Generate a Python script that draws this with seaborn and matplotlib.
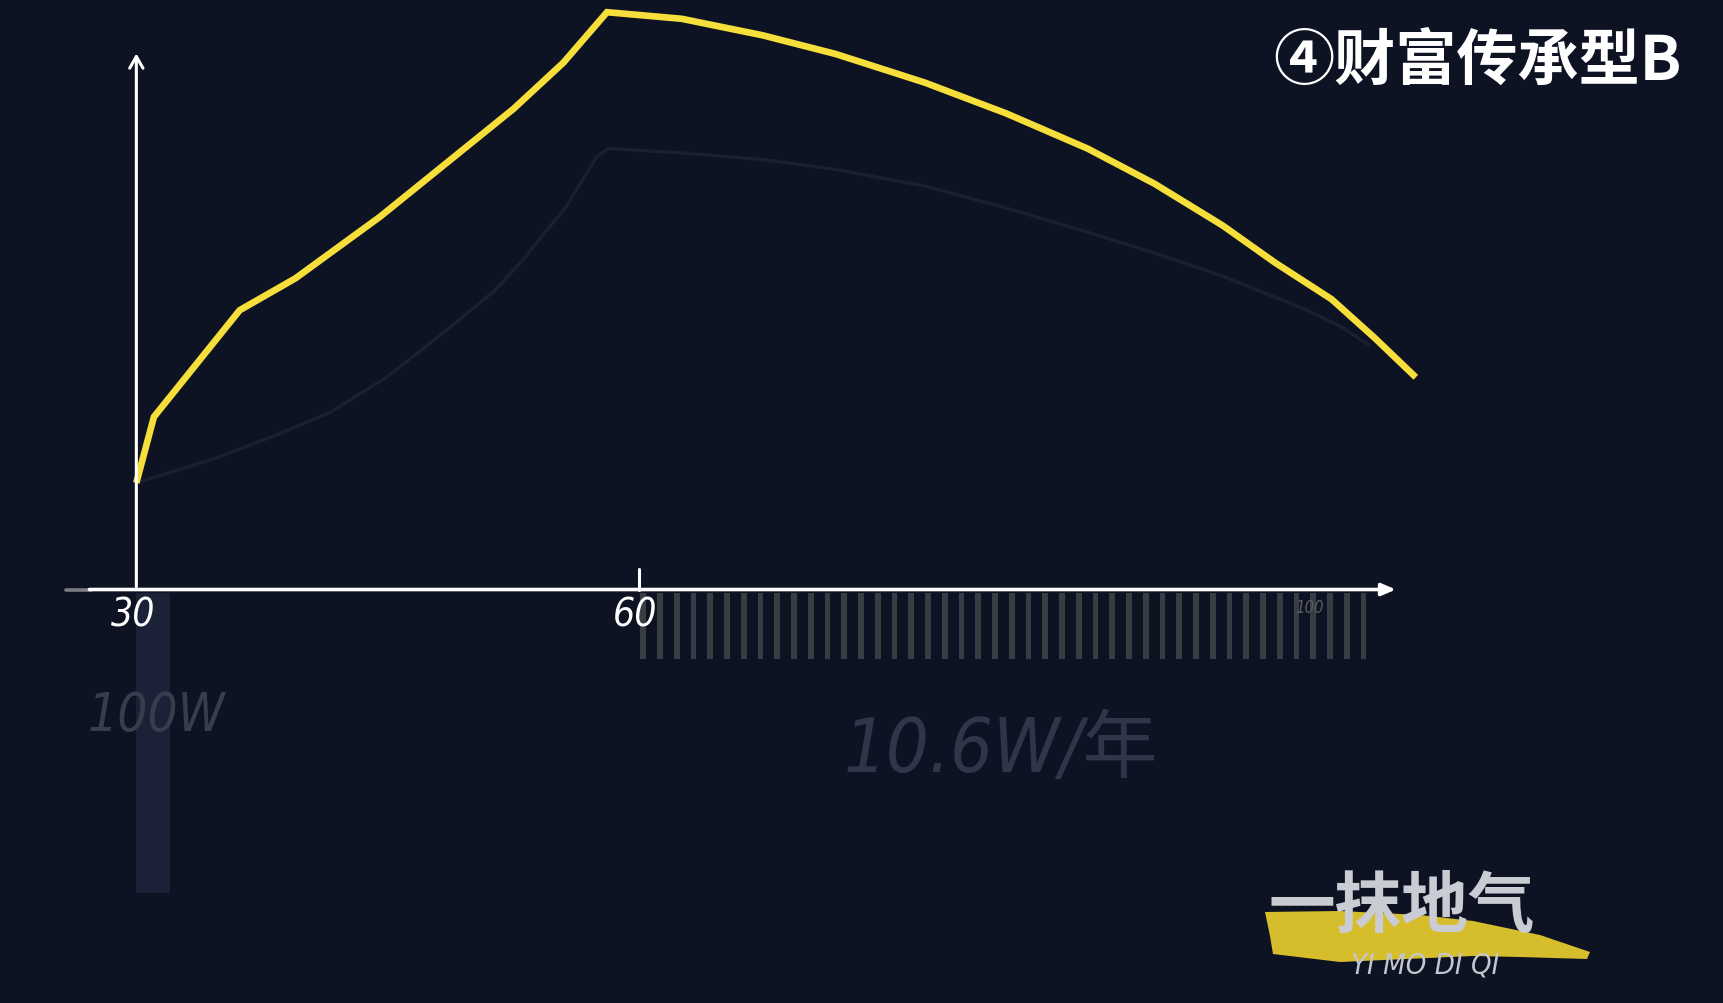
import matplotlib
matplotlib.use("Agg")
import matplotlib.pyplot as plt
from matplotlib.patches import Polygon
import seaborn as sns
import numpy as np

# ─────────────────────────────────────────────
# data (wealth index over age)
# ─────────────────────────────────────────────
wealth_ages = [30, 31.05, 36.17, 39.5, 44.55, 48.53, 52.51, 55.49, 58.1,
               62.56, 67.39, 71.75, 77.07, 81.93, 86.79, 90.79, 94.86,
               98.01, 101.36, 103.92, 106.39]
wealth_vals = [97, 157, 254, 283, 339, 388, 437, 479, 525,
               519, 504, 487, 461, 433, 401, 369, 331,
               297, 264, 229, 193]

ghost_ages = [30, 34.66, 38.27, 41.55, 44.84, 48.38, 51.4, 53.1, 55.7,
              57.5, 58.2, 62.56, 67.39, 71.75, 77.07, 81.93, 86.79,
              90.79, 94.86, 99.75, 101.95, 103.63]
ghost_vals = [97, 119, 140, 161, 192, 234, 272, 300, 349,
              394, 401, 397, 391, 382, 367, 347, 325,
              306, 285, 255, 239, 222]

stripe_years = list(range(60, 104))
stripe_depth = 60
bar_start_age = 30
bar_depth = 273

tick_labels = ["30", "60"]
tick_ages = [30, 60]

title = "④财富传承型B"
lump_label = "100W"
annual_label = "10.6W/年"

BG = "#0e1324"
YELLOW = "#f6df3a"
NARROW = ["DejaVu Sans Condensed", "DejaVu Sans", "Noto Sans CJK SC"]

sns.set_theme(style="dark", rc={"axes.facecolor": BG, "figure.facecolor": BG})
plt.rcParams["font.family"] = ["Noto Sans CJK SC", "DejaVu Sans"]

fig = plt.figure(figsize=(17.24, 10.04), dpi=100)
ax = fig.add_axes([0, 0, 1, 1])
ax.set_facecolor(BG)
ax.set_xlim(21.86, 124.79)
ax.set_ylim(-376, 537)
ax.set_axis_off()

# faint earlier curve, then the yellow one
sns.lineplot(x=ghost_ages, y=ghost_vals, ax=ax, color="#1b1f2e",
             linewidth=2.4, sort=False, zorder=2)
sns.lineplot(x=wealth_ages, y=wealth_vals, ax=ax, color=YELLOW,
             linewidth=4.8, sort=False, zorder=4,
             solid_joinstyle="miter", solid_capstyle="butt")

# under-axis bars
ax.bar(bar_start_age, -bar_depth, bottom=-3, width=2.03, align="edge",
       color="#1b2137", edgecolor="none", linewidth=0, zorder=1)
ax.bar(np.array(stripe_years) + 0.1, -stripe_depth, bottom=-3, width=0.34,
       align="edge", color="#393c43", edgecolor="none", linewidth=0, zorder=1)

# axes arrows
ax.annotate("", xy=(30, 490), xytext=(30, 0),
            arrowprops=dict(arrowstyle="->,head_length=0.7,head_width=0.4",
                            color="white", lw=2.2), zorder=5)
ax.annotate("", xy=(105.2, 0), xytext=(27.2, 0),
            arrowprops=dict(arrowstyle="-|>,head_length=0.7,head_width=0.3",
                            color="white", lw=2.6, shrinkA=0, shrinkB=0),
            zorder=5)
ax.plot([25.8, 27.3], [0, 0], color="white", lw=2.6, alpha=0.45, zorder=5)
ax.plot([60, 60], [0, 19], color="white", lw=2.2, zorder=5)

for age, lab in zip(tick_ages, tick_labels):
    ax.text(age - 0.2, -23, lab, ha="center", va="center", color="white",
            fontsize=28, style="italic", fontstretch="condensed",
            family=NARROW, zorder=6)
ax.text(100.05, -16, "100", ha="center", va="center", color="#575b64",
        fontsize=12, style="italic", fontstretch="condensed", family=NARROW,
        zorder=6)

ax.text(31.2, -114, lump_label, ha="center", va="center", color="#383c4b",
        fontsize=38, style="italic", fontstretch="condensed", family=NARROW,
        zorder=6)
ax.text(81.6, -146, annual_label, ha="center", va="center", color="#31354a",
        fontsize=54, style="italic", fontstretch="condensed", family=NARROW,
        zorder=6)

# title
fig.text(0.9756, 0.9386, title, ha="right", va="center", color="white",
         fontsize=44, fontweight="bold", family=["Noto Sans CJK SC", "DejaVu Sans"])

# logo
W, H = 1724, 1004
brush = [(1265, 913), (1340, 912), (1420, 916), (1473, 922), (1540, 936),
         (1590, 953), (1587, 960), (1520, 958), (1473, 957), (1340, 963),
         (1273, 955), (1270, 937)]
fig.patches.append(Polygon([(x / W, 1 - y / H) for x, y in brush], closed=True,
                           transform=fig.transFigure, facecolor="#d6bd2c",
                           edgecolor="none", zorder=1))
fig.text(0.813, 0.0966, "一抹地气", ha="center", va="center", color="#c9ccd2",
         fontsize=48, fontweight="bold", family=["Noto Sans CJK SC", "DejaVu Sans"],
         zorder=3)
fig.text(0.8265, 0.038, "YI MO DI QI", ha="center", va="center", color="#c3c6cc",
         fontsize=21, style="italic", fontstretch="condensed", family=NARROW,
         zorder=3)

plt.savefig("out.png", dpi=100, facecolor=BG)
